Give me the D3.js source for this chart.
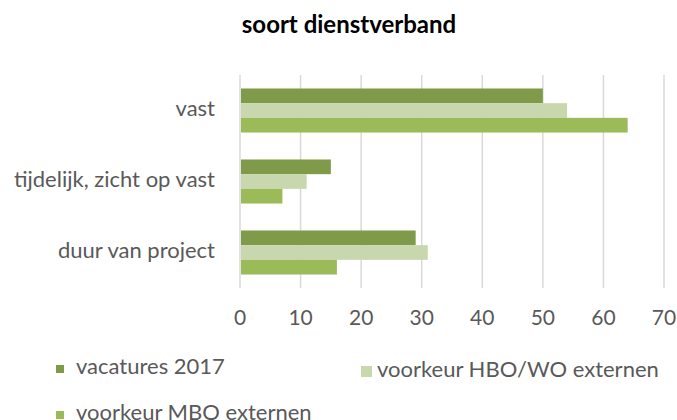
<!DOCTYPE html>
<html>
<head>
<meta charset="utf-8">
<script src="https://cdn.jsdelivr.net/npm/d3@7"></script>
<style>
  html, body { margin: 0; padding: 0; background: #fff; }
  svg { display: block; font-family: Lato, "Open Sans", sans-serif; }
</style>
</head>
<body>
<div id="chart"></div>
<script>
// soort dienstverband - grouped horizontal bars
const categories = ["vast", "tijdelijk, zicht op vast", "duur van project"];
const seriesNames = ["vacatures 2017", "voorkeur HBO/WO externen", "voorkeur MBO externen"];
const vacatures2017 = [50, 15, 29];
const voorkeurHBO = [54, 11, 31];
const voorkeurMBO = [64, 7, 16];
const xTicks = [0, 10, 20, 30, 40, 50, 60, 70];
const colors = ["#7f9a48", "#c8d7ad", "#9bbb59"];

const seriesValues = [vacatures2017, voorkeurHBO, voorkeurMBO];

const width = 677, height = 420;
const svg = d3.select("#chart").append("svg")
    .attr("width", width).attr("height", height);

const x = d3.scaleLinear().domain([0, 70]).range([240, 664]);
const y = d3.scaleBand().domain(categories).range([75, 288])
    .paddingInner(0.38).paddingOuter(0.19);
const ySub = d3.scaleBand().domain(seriesNames).range([0, y.bandwidth()]);

// title
svg.append("text")
    .attr("x", 349).attr("y", 33)
    .attr("text-anchor", "middle")
    .style("font-size", "24px").style("font-weight", "bold")
    .style("fill", "#000")
    .text("soort dienstverband");

// gridlines
svg.append("g").selectAll("line")
    .data(xTicks)
    .join("line")
    .attr("x1", d => x(d)).attr("x2", d => x(d))
    .attr("y1", 75).attr("y2", 288)
    .attr("stroke", "#d9d9d9").attr("stroke-width", 1.5);

// bars
const rows = categories.map((c, i) => ({
    cat: c,
    vals: seriesNames.map((s, j) => ({ s, v: seriesValues[j][i], c: colors[j] }))
}));

svg.append("g").selectAll("g")
    .data(rows)
    .join("g")
    .attr("transform", d => `translate(0,${y(d.cat)})`)
    .selectAll("rect")
    .data(d => d.vals)
    .join("rect")
    .attr("x", x(0) + 1)
    .attr("y", d => ySub(d.s))
    .attr("width", d => x(d.v) - x(0) - 1)
    .attr("height", ySub.bandwidth())
    .attr("fill", d => d.c);

// x tick labels
svg.append("g").selectAll("text")
    .data(xTicks)
    .join("text")
    .attr("x", d => x(d)).attr("y", 325)
    .attr("text-anchor", "middle")
    .style("font-size", "21px").style("fill", "#595959")
    .text(d => d);

// category labels
svg.append("g").selectAll("text")
    .data(categories)
    .join("text")
    .attr("x", 215)
    .attr("y", d => y(d) + y.bandwidth() / 2 + 5.5)
    .attr("text-anchor", "end")
    .style("font-size", "22px").style("fill", "#595959")
    .text(d => d);

// legend
const legendPos = [[56, 374, 8], [361, 378, 11], [56, 420, 8]];
const legend = svg.append("g").selectAll("g")
    .data(seriesNames)
    .join("g")
    .attr("transform", (d, i) => `translate(${legendPos[i][0]},${legendPos[i][1]})`);

legend.append("rect")
    .attr("x", 0).attr("y", (d, i) => 1 - legendPos[i][2] - 2)
    .attr("width", (d, i) => legendPos[i][2]).attr("height", (d, i) => legendPos[i][2])
    .attr("fill", (d, i) => colors[i]);

legend.append("text")
    .attr("x", (d, i) => i === 1 ? 16 : 20).attr("y", (d, i) => i === 1 ? -1 : 0)
    .style("font-size", "22px").style("fill", "#595959")
    .text(d => d);
</script>
</body>
</html>
